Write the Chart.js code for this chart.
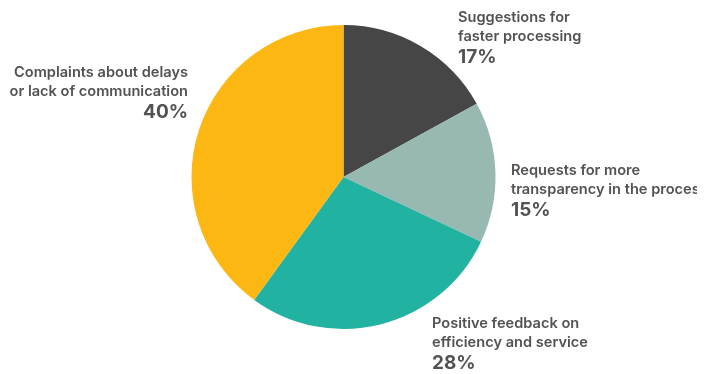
<!DOCTYPE html>
<html>
<head>
<meta charset="utf-8">
<script src="https://cdn.jsdelivr.net/npm/chart.js@4"></script>
<style>
  html, body { margin: 0; padding: 0; background: #fff; }
  #wrap { width: 697px; height: 374px; overflow: hidden; }
</style>
</head>
<body>
<div id="wrap"><canvas id="feedbackChart" width="714" height="374"></canvas></div>
<script>
// feedback categories, clockwise from 12 o'clock
const categories = [
  ['Suggestions for', 'faster processing'],
  ['Requests for more', 'transparency in the process'],
  ['Positive feedback on', 'efficiency and service'],
  ['Complaints about delays', 'or lack of communication']
];
const shares = [17, 15, 28, 40];
const sliceColors = ['#464646', '#98b9b2', '#22b2a2', '#fcb713'];

// where each label block sits: [x, y of first line, text align]
const labelSpots = [
  [458, 18, 'left'],
  [511, 171, 'left'],
  [432, 324, 'left'],
  [188, 73, 'right']
];

const calloutLabels = {
  id: 'calloutLabels',
  afterDraw(chart) {
    const ctx = chart.ctx;
    ctx.save();
    ctx.fillStyle = '#525252';
    ctx.textBaseline = 'middle';
    categories.forEach((lines, i) => {
      const [x, y, align] = labelSpots[i];
      ctx.textAlign = align;
      ctx.font = '600 14.6px Inter';
      lines.forEach((line, j) => ctx.fillText(line, x, y + j * 18.5));
      ctx.font = '700 19px Inter';
      ctx.fillText(shares[i] + '%', x, y + 2 * 18.5 + 2);
    });
    ctx.restore();
  }
};

new Chart(document.getElementById('feedbackChart'), {
  type: 'pie',
  data: {
    labels: categories.map(c => c.join(' ')),
    datasets: [{
      data: shares,
      backgroundColor: sliceColors,
      borderWidth: 0
    }]
  },
  options: {
    responsive: false,
    animation: false,
    layout: { padding: { top: 25, bottom: 45, left: 0, right: 27 } },
    plugins: {
      legend: { display: false },
      tooltip: { enabled: false }
    }
  },
  plugins: [calloutLabels]
});
</script>
</body>
</html>
